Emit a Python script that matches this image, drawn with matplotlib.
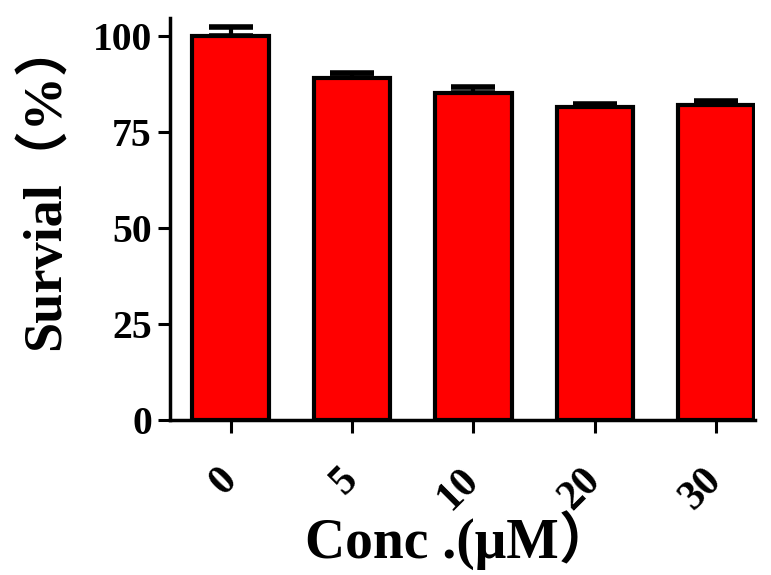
import matplotlib
matplotlib.use("Agg")
import matplotlib.pyplot as plt
import numpy as np

categories = ["0", "5", "10", "20", "30"]
survival = [100.0, 89.0, 85.2, 81.6, 82.1]
errors = [2.4, 1.4, 1.5, 0.6, 1.1]
yticks = [0, 25, 50, 75, 100]

plt.rcParams['font.family'] = ['Liberation Serif', 'Noto Sans CJK SC', 'DejaVu Sans']
plt.rcParams['font.weight'] = 'bold'

fig = plt.figure(figsize=(7.71, 5.75), dpi=100)
ax = fig.add_axes([170/771, 155/575, (755-170)/771, (420-18)/575])

x = np.arange(len(categories))
ax.bar(x, survival, width=0.63, color='#ff0000', edgecolor='black', linewidth=3, zorder=2)
ax.errorbar(x, survival, yerr=[np.zeros(len(errors)), errors], fmt='none',
            ecolor='black', elinewidth=3, capsize=16, capthick=4, zorder=1)

ax.set_xlim(-0.5, 4.32)
ax.set_ylim(0, 104.7)
ax.set_yticks(yticks)
ax.set_xticks(x)
ax.set_xticklabels(categories, rotation=45, ha='right', va='center', rotation_mode='anchor')
for lab in ax.get_yticklabels():
    lab.set_fontsize(28.5)
    lab.set_fontweight('bold')
for lab in ax.get_xticklabels():
    lab.set_fontsize(30)
    lab.set_fontweight('bold')

for s in ['top', 'right']:
    ax.spines[s].set_visible(False)
for s in ['left', 'bottom']:
    ax.spines[s].set_linewidth(2.5)
ax.tick_params(axis='both', width=2.2, length=9, pad=4)
ax.tick_params(axis='x', pad=30)

ax.set_ylabel("Survial（%）", fontsize=39, fontweight='bold')
ax.yaxis.set_label_coords(-0.168, 0.585)
ax.set_xlabel("Conc .(μM）", fontsize=40, fontweight='bold')
ax.xaxis.set_label_coords(0.495, -0.225)

fig.savefig("out.png", dpi=100)
